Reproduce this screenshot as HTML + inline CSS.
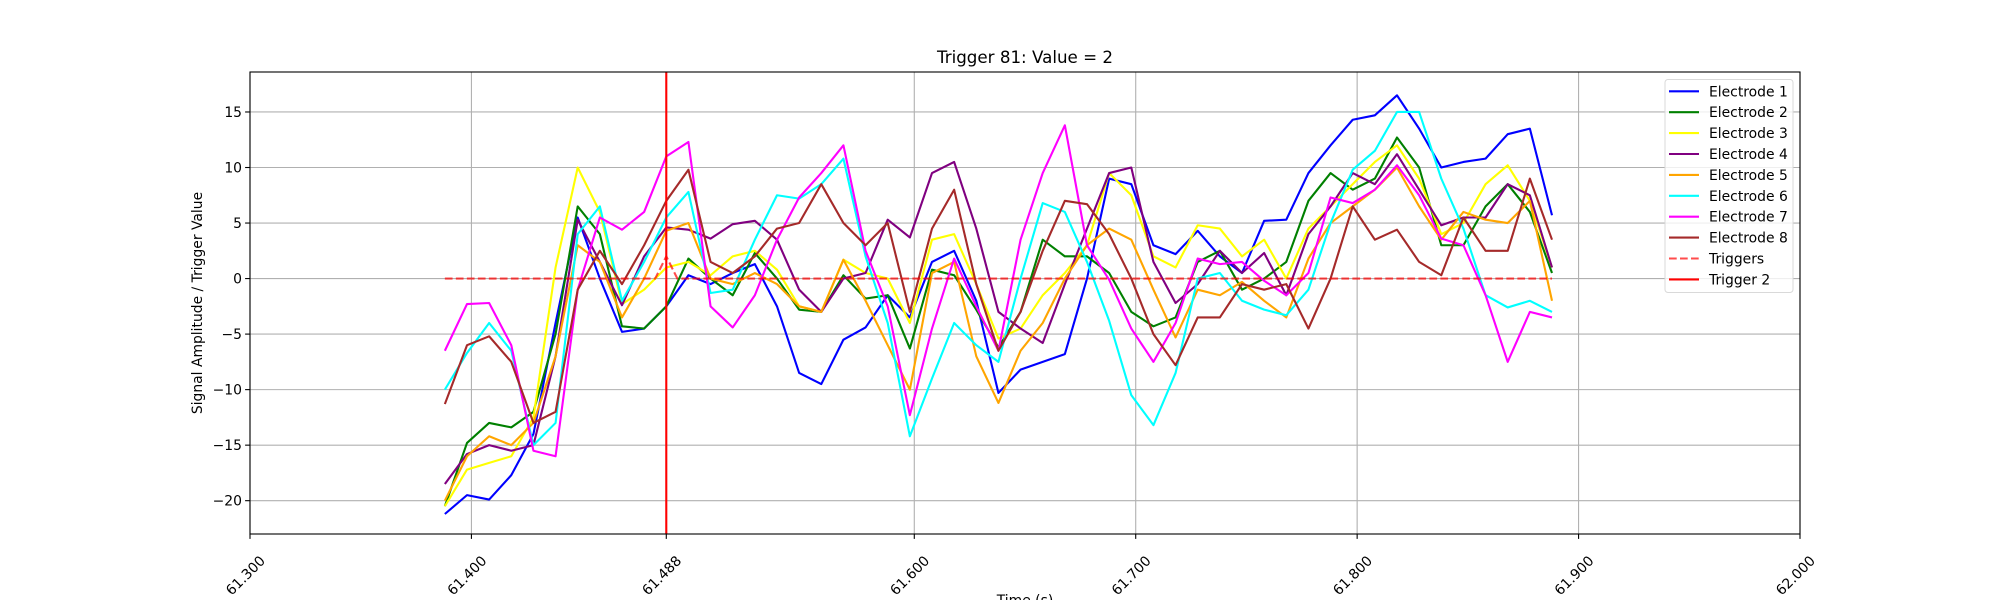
<!DOCTYPE html>
<html><head><meta charset="utf-8"><style>
html,body{margin:0;padding:0;background:#fff;}
svg{display:block;font-family:"DejaVu Sans","Liberation Sans",sans-serif;}
</style></head><body>
<svg id="chart" width="2000" height="600" viewBox="0 0 2000 600"></svg>
<script>
const times = [61.388,61.398,61.408,61.418,61.428,61.438,61.448,61.458,61.468,61.478,61.488,61.498,61.508,61.518,61.528,61.538,61.548,61.558,61.568,61.578,61.588,61.598,61.608,61.618,61.628,61.638,61.648,61.658,61.668,61.678,61.688,61.698,61.708,61.718,61.728,61.738,61.748,61.758,61.768,61.778,61.788,61.798,61.808,61.818,61.828,61.838,61.848,61.858,61.868,61.878,61.888];
const electrode1 = [-21.2,-19.5,-19.9,-17.7,-14,-4,5.5,0,-4.8,-4.5,-2.5,0.3,-0.5,0.5,1.3,-2.5,-8.5,-9.5,-5.5,-4.4,-1.5,-3.5,1.5,2.5,-2,-10.3,-8.2,-7.5,-6.8,0,9,8.5,3,2.2,4.3,2,0.5,5.2,5.3,9.5,12,14.3,14.7,16.5,13.5,10,10.5,10.8,13,13.5,5.7];
const electrode2 = [-20.5,-14.8,-13,-13.4,-12,-5,6.5,4,-4.3,-4.5,-2.5,1.8,0,-1.5,2.3,0,-2.8,-3,0.3,-1.8,-1.5,-6.3,0.8,0.3,-2.8,-6.2,-3,3.5,2,2,0.5,-3,-4.3,-3.5,1.5,2.5,-1,0,1.5,7,9.5,8,9,12.7,10,3,3,6.5,8.5,6,0.5];
const electrode3 = [-20.5,-17.2,-16.6,-16,-12.5,1,10,6,-2.3,-1,1,1.5,0.3,2,2.5,0.8,-2.5,-3,1.7,0.5,0,-4,3.5,4,-0.5,-5.4,-4.5,-1.5,0.5,3,9.5,7.5,2,1,4.8,4.5,2,3.5,0,4.5,6.5,8.5,10.5,12,9,4,5,8.5,10.2,7,1];
const electrode4 = [-18.5,-15.8,-15,-15.5,-15,-7,5.3,1.5,-2.4,2,4.6,4.4,3.6,4.9,5.2,3.5,-1,-3,0,0.5,5.3,3.7,9.5,10.5,4.5,-3,-4.5,-5.8,-0.5,4.5,9.5,10,1.5,-2.2,-0.5,2.5,0.5,2.3,-1.5,4,6.5,9.5,8.5,11.2,8,4.8,5.5,5.5,8.5,7.5,1];
const electrode5 = [-20,-16,-14.2,-15,-13,-7,3,1.5,-3.5,0,4.3,5,0,-0.5,0.5,-0.5,-2.5,-3,1.7,-2,-6,-10,0.5,1.5,-7,-11.2,-6.5,-4,0,3,4.5,3.5,-1,-5.3,-1,-1.5,-0.3,-2,-3.5,1.8,5,6.5,8,10,6.5,3.5,6,5.3,5,7,-2];
const electrode6 = [-10,-6.7,-4,-6.5,-15,-13,4,6.5,-2,1.5,5.5,7.8,-1.3,-1,3.5,7.5,7.2,8.5,10.8,2,-4,-14.2,-9,-4,-6,-7.5,0,6.8,6,1.5,-3.8,-10.5,-13.2,-8.5,0,0.5,-2,-2.8,-3.3,-1,5,9.8,11.5,15,15,9,4.5,-1.5,-2.6,-2,-3];
const electrode7 = [-6.5,-2.3,-2.2,-6,-15.5,-16,-1,5.5,4.4,6,11,12.3,-2.5,-4.4,-1.5,3.5,7.3,9.5,12,2.5,-2.5,-12.3,-4.5,1.8,-2.5,-6.5,3.5,9.5,13.8,3,-0.1,-4.5,-7.5,-4,1.8,1.3,1.5,-0.2,-1.5,0.5,7.3,6.8,8,10.2,7.5,3.6,3,-1.5,-7.5,-3,-3.5];
const electrode8 = [-11.3,-6,-5.2,-7.5,-13,-12,-1,2.5,-0.5,3,7,9.8,1.5,0.5,2,4.5,5,8.5,5,3,5,-3,4.5,8,-0.5,-6.5,-3,2.5,7,6.7,4,0,-5,-7.8,-3.5,-3.5,-0.5,-1,-0.5,-4.5,0,6.5,3.5,4.4,1.5,0.3,5.5,2.5,2.5,9,3.5];
const triggerTimes = [61.388,61.483,61.488,61.493,61.888];
const triggerValues = [0,0,2,0,0];
const trigger2Time = 61.488;
const xTickValues = [61.3,61.4,61.488,61.6,61.7,61.8,61.9,62.0];
const xTickLabels = ["61.300","61.400","61.488","61.600","61.700","61.800","61.900","62.000"];
const yTickValues = [-20,-15,-10,-5,0,5,10,15];
const yTickLabels = ["\u221220","\u221215","\u221210","\u22125","0","5","10","15"];

const NS = "http://www.w3.org/2000/svg";
const svg = document.getElementById("chart");
const L=250,R=1800,T=72,B=534, XMIN=61.3,XMAX=62.0,YMIN=-23.0,YMAX=18.6;
function xs(v){return L+(v-XMIN)/(XMAX-XMIN)*(R-L);}
function ys(v){return B-(v-YMIN)/(YMAX-YMIN)*(B-T);}
function mk(tag,attrs,parent){const e=document.createElementNS(NS,tag);for(const k in attrs)e.setAttribute(k,attrs[k]);(parent||svg).appendChild(e);return e;}

const grid = mk("g",{});


xTickValues.forEach(v=>{const l=mk("line",{x1:xs(v),x2:xs(v),y1:T,y2:B,stroke:"#b0b0b0","stroke-width":1.1},grid);

});
yTickValues.forEach(v=>{const l=mk("line",{x1:L,x2:R,y1:ys(v),y2:ys(v),stroke:"#b0b0b0","stroke-width":1.1},grid);

});

const seriesList=[["electrode-1",electrode1,"#0000ff"],["electrode-2",electrode2,"#008000"],["electrode-3",electrode3,"#ffff00"],["electrode-4",electrode4,"#800080"],["electrode-5",electrode5,"#ffa500"],["electrode-6",electrode6,"#00ffff"],["electrode-7",electrode7,"#ff00ff"],["electrode-8",electrode8,"#a52a2a"]];
const clip=mk("clipPath",{id:"plotclip"});mk("rect",{x:L,y:T,width:R-L,height:B-T},clip);
seriesList.forEach(s=>{
  const pts=s[1].map((v,i)=>xs(times[i]).toFixed(2)+","+ys(v).toFixed(2)).join(" ");
  const p=mk("polyline",{points:pts,fill:"none",stroke:s[2],"stroke-width":2.1,"stroke-linejoin":"round","clip-path":"url(#plotclip)"});
  
  
});
const tp=mk("polyline",{points:triggerValues.map((v,i)=>xs(triggerTimes[i]).toFixed(2)+","+ys(v).toFixed(2)).join(" "),fill:"none",stroke:"#ff0000","stroke-opacity":0.7,"stroke-width":2.1,"stroke-dasharray":"7.7,3.3"});


const t2=mk("line",{x1:xs(trigger2Time),x2:xs(trigger2Time),y1:T,y2:B,stroke:"#ff0000","stroke-width":2.1});



const frame=mk("rect",{x:L,y:T,width:R-L,height:B-T,fill:"none",stroke:"#000","stroke-width":1.1});



xTickValues.forEach((v,i)=>{
  const x=xs(v);
  const tk=mk("line",{x1:x,x2:x,y1:B,y2:B+4.9,stroke:"#000","stroke-width":1.1});
  
  
  const t=mk("text",{x:0,y:0,"font-size":13.9,fill:"#000","text-anchor":"middle","dominant-baseline":"central",transform:`translate(${x-4},${B+42}) rotate(-45)`});
  t.textContent=xTickLabels[i];
  
  
});
yTickValues.forEach((v,i)=>{
  const y=ys(v);
  const tk=mk("line",{x1:L-4.9,x2:L,y1:y,y2:y,stroke:"#000","stroke-width":1.1});
  
  
  const t=mk("text",{x:L-8,y:y+5,"font-size":13.9,fill:"#000","text-anchor":"end"});
  t.textContent=yTickLabels[i];
  
  
});

const title=mk("text",{x:(L+R)/2,y:63,"font-size":16.7,"text-anchor":"middle",fill:"#000"});
title.textContent="Trigger 81: Value = 2";


const xl=mk("text",{x:(L+R)/2,y:605,"font-size":13.9,"text-anchor":"middle",fill:"#000"});
xl.textContent="Time (s)";


const yl=mk("text",{x:0,y:0,"font-size":13.9,"text-anchor":"middle",fill:"#000",transform:`translate(202,${(T+B)/2}) rotate(-90)`});
yl.textContent="Signal Amplitude / Trigger Value";



const lg=mk("g",{});


mk("rect",{x:1665,y:79.5,width:128,height:213,rx:3,fill:"#fff","fill-opacity":0.8,stroke:"#d9d9d9","stroke-width":1},lg);
const legendNames=["Electrode 1","Electrode 2","Electrode 3","Electrode 4","Electrode 5","Electrode 6","Electrode 7","Electrode 8","Triggers","Trigger 2"];
const legendColors=["#0000ff","#008000","#ffff00","#800080","#ffa500","#00ffff","#ff00ff","#a52a2a","#ff0000","#ff0000"];
legendNames.forEach((n,i)=>{
  const y=91.3+i*20.9;
  const e=mk("g",{},lg);
  
  
  const a={x1:1669,x2:1699,y1:y,y2:y,stroke:legendColors[i],"stroke-width":2.1};
  if(i===8){a["stroke-dasharray"]="7.7,3.3";a["stroke-opacity"]=0.7;}
  mk("line",a,e);
  const t=mk("text",{x:1709,y:y+5,"font-size":13.9,fill:"#000"},e);
  t.textContent=n;
});
</script>
</body></html>
